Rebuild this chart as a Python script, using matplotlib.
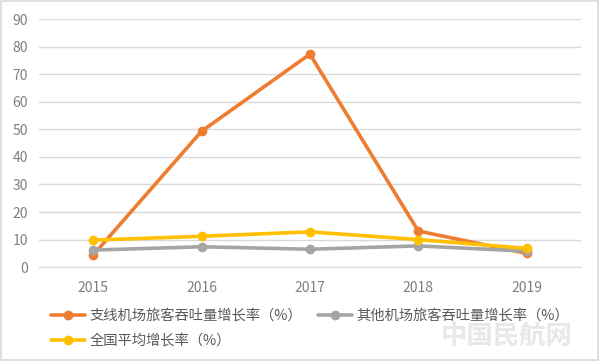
import matplotlib.pyplot as plt

plt.rcParams['font.family'] = ['Noto Sans CJK SC', 'DejaVu Sans']

years = ['2015', '2016', '2017', '2018', '2019']
branch = [4.4, 49.3, 77.3, 13.1, 5.0]   # 支线机场
other = [6.2, 7.4, 6.5, 7.7, 5.8]       # 其他机场
national = [9.8, 11.2, 12.8, 10.0, 6.8] # 全国平均

labels = ['支线机场旅客吞吐量增长率（%）', '其他机场旅客吞吐量增长率（%）', '全国平均增长率（%）']
colors = ['#ED7D31', '#A5A5A5', '#FFC000']

fig = plt.figure(figsize=(6, 3.61), dpi=100)
ax = fig.add_axes([0.065, 0.26, 0.903, 0.687])

x = range(len(years))
lines = []
for vals, lab, c in zip([branch, other, national], labels, colors):
    l, = ax.plot(x, vals, color=c, lw=2.6, marker='o', ms=6, label=lab,
                 solid_capstyle='round')
    lines.append(l)

ax.set_xlim(-0.5, 4.5)
ax.set_ylim(0, 90)
ax.set_yticks(range(0, 91, 10))
ax.set_xticks(list(x))
ax.set_xticklabels(years)
ax.grid(axis='y', color='#D9D9D9', lw=1)
ax.set_axisbelow(True)
for s in ['top', 'right', 'left']:
    ax.spines[s].set_visible(False)
ax.spines['bottom'].set_color('#D9D9D9')
ax.tick_params(length=0, colors='#7F7F7F', labelsize=10, pad=8)
ax.tick_params(axis='x', pad=10)

fig.legend([lines[0], lines[2], lines[1]], [labels[0], labels[2], labels[1]],
           ncol=2, loc='upper left', bbox_to_anchor=(0.075, 0.16), frameon=False,
           fontsize=10.3, handlelength=2.4, columnspacing=1.1, labelspacing=0.75,
           handletextpad=0.3, labelcolor='#595959', borderaxespad=0)

# watermark
fig.text(0.845, 0.03, '中国民航网', fontsize=19, color='#E8E8E8', ha='center',
         va='bottom', fontweight='bold')

fig.patches.append(plt.Rectangle((0.002, 0.003), 0.995, 0.994, transform=fig.transFigure,
                                 fill=False, edgecolor='#D9D9D9', lw=1.2))

fig.savefig('out.png', dpi=100)
